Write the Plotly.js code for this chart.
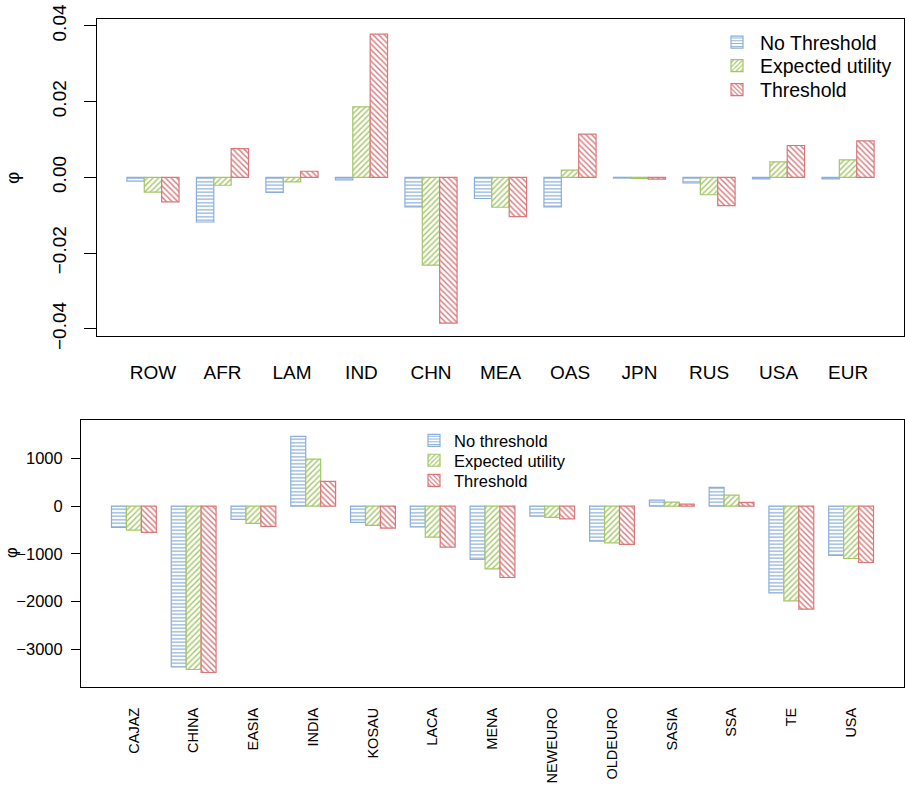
<!DOCTYPE html>
<html>
<head>
<meta charset="utf-8">
<script src="https://cdn.plot.ly/plotly-3.0.1.min.js"></script>
<style>
  html, body { margin: 0; padding: 0; background: #fff; }
  #chart { width: 905px; height: 787px; }
</style>
</head>
<body>
<div id="chart"></div>
<script>
// Upper panel: regional change in phi under three decision rules
const regionsTop = ['ROW', 'AFR', 'LAM', 'IND', 'CHN', 'MEA', 'OAS', 'JPN', 'RUS', 'USA', 'EUR'];
const topNoThreshold = [-0.0010, -0.0118, -0.0040, -0.0007, -0.0078, -0.0056, -0.0078, -0.0002, -0.0015, -0.0004, -0.0004];
const topExpectedUtility = [-0.0039, -0.0021, -0.0012, 0.0186, -0.0232, -0.0079, 0.0019, -0.0003, -0.0046, 0.0041, 0.0046];
const topThreshold = [-0.0065, 0.0076, 0.0016, 0.0378, -0.0385, -0.0104, 0.0114, -0.0005, -0.0075, 0.0084, 0.0096];
const topTickVals = [-0.04, -0.02, 0, 0.02, 0.04];

// Lower panel: the same comparison on a finer regional split
const regionsBottom = ['CAJAZ', 'CHINA', 'EASIA', 'INDIA', 'KOSAU', 'LACA', 'MENA', 'NEWEURO', 'OLDEURO', 'SASIA', 'SSA', 'TE', 'USA'];
const bottomNoThreshold = [-448, -3373, -280, 1463, -343, -434, -1120, -210, -735, 126, 392, -1819, -1036];
const bottomExpectedUtility = [-504, -3429, -364, 987, -406, -651, -1316, -238, -770, 84, 231, -1987, -1099];
const bottomThreshold = [-553, -3492, -427, 518, -462, -861, -1498, -266, -805, 42, 77, -2162, -1183];
const bottomTickVals = [-3000, -2000, -1000, 0, 1000];

const BLUE = '#8aaedb';
const GREEN = '#a3c765';
const RED = '#d9777a';

function hatched(color, shape, size) {
  return {
    color: 'white',
    line: { color: color, width: 1.2 },
    pattern: { shape: shape, fgcolor: color, bgcolor: 'white', size: size, solidity: 0.35, fillmode: 'replace' }
  };
}

function series(x, y, name, color, shape, size, axes, legend) {
  return {
    type: 'bar', x: x, y: y, name: name,
    xaxis: axes[0], yaxis: axes[1], legend: legend,
    marker: hatched(color, shape, size),
    hoverinfo: 'x+y+name'
  };
}

// each legend entry gets its own legend box so the rows can be spaced freely
const data = [
  series(regionsTop, topNoThreshold, 'No Threshold', BLUE, '-', 3.5, ['x', 'y'], 'legend'),
  series(regionsTop, topExpectedUtility, 'Expected utility', GREEN, '/', 4, ['x', 'y'], 'legend2'),
  series(regionsTop, topThreshold, 'Threshold', RED, '\\', 4, ['x', 'y'], 'legend3'),
  series(regionsBottom, bottomNoThreshold, 'No threshold', BLUE, '-', 3.5, ['x2', 'y2'], 'legend4'),
  series(regionsBottom, bottomExpectedUtility, 'Expected utility', GREEN, '/', 4, ['x2', 'y2'], 'legend5'),
  series(regionsBottom, bottomThreshold, 'Threshold', RED, '\\', 4, ['x2', 'y2'], 'legend6')
];

const W = 905, H = 787;
const px = v => v / W;
const py = v => 1 - v / H;

const font = { family: 'Liberation Sans, Arial, sans-serif', color: '#000' };

function legendAt(x, yMid, size, itemwidth) {
  return {
    x: px(x), y: py(yMid), xanchor: 'left', yanchor: 'middle',
    bgcolor: 'rgba(0,0,0,0)', borderwidth: 0, itemwidth: itemwidth,
    font: Object.assign({ size: size }, font)
  };
}

const layout = {
  width: W, height: H,
  margin: { l: 0, r: 0, t: 0, b: 0 },
  paper_bgcolor: 'white', plot_bgcolor: 'white',
  font: Object.assign({ size: 19 }, font),
  showlegend: true,
  barmode: 'group', bargap: 0.25, bargroupgap: 0,
  xaxis: {
    domain: [px(97), px(904)], anchor: 'y',
    range: [-0.805, 10.805], type: 'category',
    showline: true, mirror: true, linecolor: '#000', linewidth: 1,
    ticks: '', showgrid: false, zeroline: false,
    tickfont: Object.assign({ size: 19 }, font),
    ticklabelstandoff: 19
  },
  yaxis: {
    domain: [py(336), py(19)], anchor: 'x',
    range: [-0.0419, 0.0418],
    tickvals: topTickVals, tickformat: '.2f', tickangle: -90,
    ticks: 'outside', ticklen: 12, tickcolor: '#000', tickwidth: 1,
    showline: true, mirror: true, linecolor: '#000', linewidth: 1,
    showgrid: false, zeroline: false,
    tickfont: Object.assign({ size: 19 }, font),
    ticklabelstandoff: 10
  },
  xaxis2: {
    domain: [px(81), px(904)], anchor: 'y2',
    range: [-0.885, 12.885], type: 'category',
    showline: true, mirror: true, linecolor: '#000', linewidth: 1,
    ticks: '', showgrid: false, zeroline: false,
    tickangle: -90,
    tickfont: Object.assign({ size: 14.5 }, font),
    ticklabelstandoff: 14
  },
  yaxis2: {
    domain: [py(687), py(420)], anchor: 'x2',
    range: [-3796, 1807],
    tickvals: bottomTickVals, tickformat: 'd',
    ticks: 'outside', ticklen: 9, tickcolor: '#000', tickwidth: 1,
    showline: true, mirror: true, linecolor: '#000', linewidth: 1,
    showgrid: false, zeroline: false,
    tickfont: Object.assign({ size: 16.5 }, font),
    ticklabelstandoff: 5
  },
  legend: legendAt(714, 42.5, 19.5, 36),
  legend2: legendAt(714, 66, 19.5, 36),
  legend3: legendAt(714, 90, 19.5, 36),
  legend4: legendAt(414, 440.7, 16.5, 30),
  legend5: legendAt(414, 460.5, 16.5, 30),
  legend6: legendAt(414, 480.7, 16.5, 30),
  annotations: [
    { text: 'φ', xref: 'paper', yref: 'paper', x: px(12), y: py(178), showarrow: false,
      xanchor: 'center', yanchor: 'middle',
      textangle: -90, font: Object.assign({ size: 19 }, font) },
    { text: 'φ', xref: 'paper', yref: 'paper', x: px(11), y: py(553), showarrow: false,
      xanchor: 'center', yanchor: 'middle',
      textangle: -90, font: Object.assign({ size: 16.5 }, font) }
  ]
};

Plotly.newPlot('chart', data, layout, { displayModeBar: false, staticPlot: true });
</script>
</body>
</html>
